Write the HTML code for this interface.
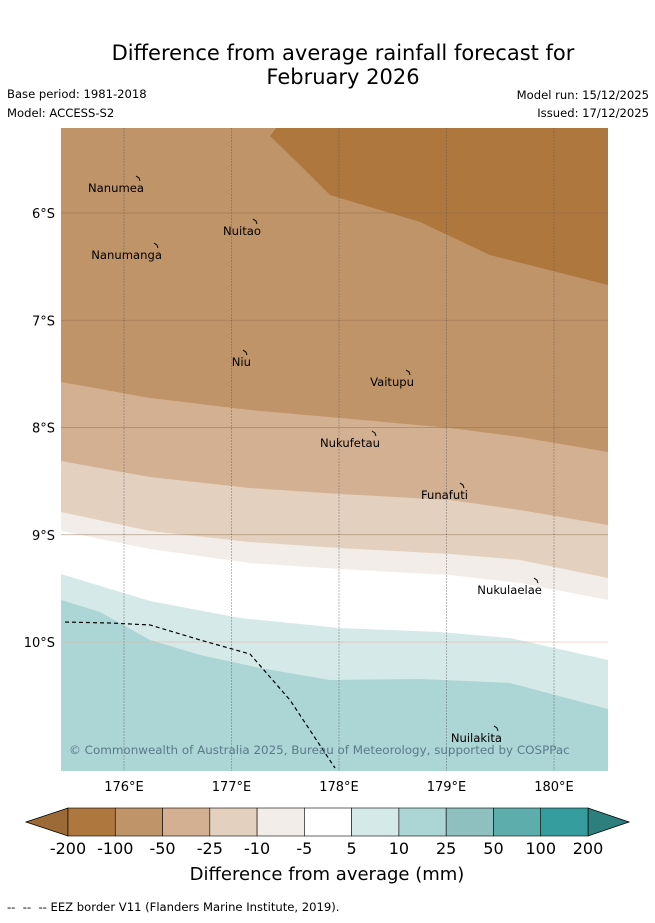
<!DOCTYPE html>
<html><head><meta charset="utf-8"><style>
body{margin:0;background:#fff;width:655px;height:919px;overflow:hidden;font-family:"DejaVu Sans","Liberation Sans",sans-serif}
</style></head><body>
<svg width="655" height="919" xmlns="http://www.w3.org/2000/svg" font-family="DejaVu Sans, Liberation Sans, sans-serif">
<text x="343" y="60" font-size="21" text-anchor="middle">Difference from average rainfall forecast for</text>
<text x="343" y="84" font-size="21" text-anchor="middle">February 2026</text>
<text x="7" y="98" font-size="11.6">Base period: 1981-2018</text>
<text x="7" y="117" font-size="11.6">Model: ACCESS-S2</text>
<text x="649" y="99" font-size="11.6" text-anchor="end">Model run: 15/12/2025</text>
<text x="649" y="117" font-size="11.6" text-anchor="end">Issued: 17/12/2025</text>
<defs><clipPath id="mc"><rect x="61" y="128" width="547" height="643"/></clipPath></defs>
<g id="map" clip-path="url(#mc)"></g>
<g id="cb"></g>
<text x="327" y="880" font-size="18" text-anchor="middle">Difference from average (mm)</text>
<text x="7" y="911" font-size="11.6">-- &#160;-- &#160;-- EEZ border V11 (Flanders Marine Institute, 2019).</text>
</svg>
<script>
const NS="http://www.w3.org/2000/svg";
const lonTicks=[176,177,178,179,180];
const latTicks=[6,7,8,9,10];
const bandColors=["#ad773e","#c09469","#d3b092","#e3d0be","#f2ede8","#ffffff","#d5e9e8","#acd5d5"];
const bnd0Lon=[177.358,177.637,177.916,178.753,179.405,180.502];
const bnd0Lat=[5.282,5.552,5.832,6.084,6.392,6.671];
const bnd1Lon=[175.414,176.242,177.172,178.009,179.033,179.684,180.502];
const bnd1Lat=[7.576,7.725,7.837,7.911,8.005,8.089,8.228];
const bnd2Lat=[8.312,8.462,8.564,8.620,8.676,8.769,8.909];
const bnd3Lat=[8.788,8.965,9.068,9.124,9.180,9.235,9.403];
const bnd4Lat=[8.965,9.133,9.263,9.319,9.375,9.450,9.608];
const bnd5Lon=[175.414,176.242,177.079,178.009,178.940,179.591,180.502];
const bnd5Lat=[9.366,9.618,9.776,9.870,9.907,9.963,10.168];
const bnd6Lon=[175.414,175.777,176.242,176.707,177.265,177.916,178.753,179.591,180.502];
const bnd6Lat=[9.608,9.720,9.981,10.121,10.242,10.354,10.345,10.382,10.625];
const eezLon=[175.451,175.870,176.242,176.707,177.172,177.544,177.963];
const eezLat=[9.814,9.823,9.841,9.981,10.112,10.541,11.175];
const islands=["Nanumea","Nuitao","Nanumanga","Niu","Vaitupu","Nukufetau","Funafuti","Nukulaelae","Nuilakita"];
const islLon=[176.186,177.274,176.353,177.181,178.698,178.381,179.2,179.888,179.516];
const islLat=[5.804,6.205,6.429,7.427,7.613,8.182,8.667,9.553,10.932];
const cbLabels=["-200","-100","-50","-25","-10","-5","5","10","25","50","100","200"];
const cbColors=["#ad773e","#c09469","#d3b092","#e3d0be","#f2ede8","#ffffff","#d5e9e8","#acd5d5","#8dc0bf","#5eadad","#359d9d"];
const X=lon=>124+(lon-176)*107.5;
const Y=lat=>213+(lat-6)*107.25;
function mk(t,a,p){const e=document.createElementNS(NS,t);for(const k in a)e.setAttribute(k,a[k]);p.appendChild(e);return e;}
const map=document.getElementById('map');
const L=X(175.3),R=X(180.7),T=Y(5.1),B=Y(11.3);
function pts(lons,lats){return lons.map((l,i)=>X(l)+","+Y(lats[i])).join(" ");}
const bnds=[[bnd1Lon,bnd1Lat],[bnd1Lon,bnd2Lat],[bnd1Lon,bnd3Lat],[bnd1Lon,bnd4Lat],[bnd5Lon,bnd5Lat],[bnd6Lon,bnd6Lat]];
let bg=mk('rect',{x:L,y:T,width:R-L,height:B-T,fill:bandColors[7]},map);


for(let i=bnds.length-1;i>=0;i--){
 const [lo,la]=bnds[i];
 const p=mk('polygon',{points:L+","+T+" "+pts(lo,la)+" "+R+","+T,fill:bandColors[i+1]},map);
 
 
}
const d0=mk('polygon',{points:X(177.498)+","+T+" "+pts(bnd0Lon,bnd0Lat)+" "+R+","+T,fill:bandColors[0]},map);


latTicks.forEach(l=>{const g=mk('line',{x1:L,x2:R,y1:Y(l),y2:Y(l),stroke:l==10?"#e8b0a0":"#8a6a4a","stroke-width":0.8,opacity:l==10?0.7:0.6},map);
 
 });
lonTicks.forEach(l=>{const g=mk('line',{x1:X(l),x2:X(l),y1:T,y2:B,stroke:"#555","stroke-width":0.8,"stroke-dasharray":"1,2"},map);
 
 });
const ez=mk('polyline',{points:pts(eezLon,eezLat),fill:"none",stroke:"#000","stroke-width":1.2,"stroke-dasharray":"4,3"},map);


islands.forEach((n,i)=>{
 const x=X(islLon[i]),y=Y(islLat[i]);
 const m=mk('path',{d:`M${x-8},${y-16} l3,2 l1,3`,stroke:"#000",fill:"none","stroke-width":1},map);
 
 
 const t=mk('text',{x:x,y:y,"font-size":11.6,"text-anchor":"end"},map);
 t.textContent=n;
 
 
});
const cr=mk('text',{x:69,y:754,"font-size":11.9,fill:"#5a7b8a"},map);
cr.textContent="© Commonwealth of Australia 2025, Bureau of Meteorology, supported by COSPPac";


const svg=document.querySelector('svg');
lonTicks.forEach(l=>{const t=mk('text',{x:X(l),y:791,"font-size":13,"text-anchor":"middle"},svg);t.textContent=l+"°E";
 
 });
latTicks.forEach(l=>{const t=mk('text',{x:55,y:Y(l)+5,"font-size":13,"text-anchor":"end"},svg);t.textContent=l+"°S";
 
 });
const cb=document.getElementById('cb');
const c0=68,c1=588,cy=808,ch=28,w=(c1-c0)/cbColors.length;
const lt=mk('polygon',{points:`26,822 ${c0},${cy} ${c0},${cy+ch}`,fill:"#9c6a36",stroke:"#000","stroke-width":0.8},cb);


const rt=mk('polygon',{points:`629,822 ${c1},${cy} ${c1},${cy+ch}`,fill:"#2d7f7e",stroke:"#000","stroke-width":0.8},cb);


cbColors.forEach((c,i)=>{const r=mk('rect',{x:c0+i*w,y:cy,width:w,height:ch,fill:c,stroke:"#000","stroke-width":0.6},cb);
 
 });
cbLabels.forEach((s,i)=>{const t=mk('text',{x:c0+i*w,y:854,"font-size":16,"text-anchor":"middle"},cb);t.textContent=s;
 
 });
</script>
</body></html>
